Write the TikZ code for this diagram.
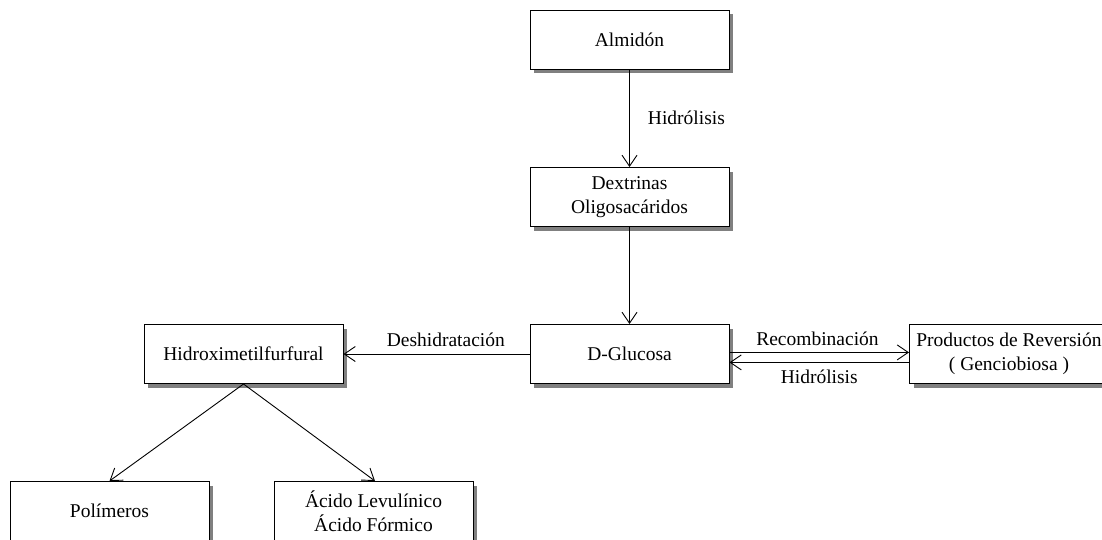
\documentclass[tikz,border=0pt]{standalone}
\usepackage{fontspec}
\setmainfont{Liberation Serif}
\usetikzlibrary{arrows.meta}
\begin{document}
\begin{tikzpicture}[x=1pt,y=-1pt,
  box/.style={draw=black, line width=1pt, fill=white, minimum width=199pt, minimum height=59pt,
    align=center, inner sep=0pt, font=\fontsize{19.5}{24}\selectfont},
  shadowbox/.style={fill=black!50, draw=none, minimum width=199pt, minimum height=59pt, inner sep=0pt},
  conn/.style={draw=black, line width=0.9pt, -{Straight Barb[length=11pt,width=15pt,line width=0.9pt]}},
  lbl/.style={font=\fontsize{19.5}{24}\selectfont, inner sep=0pt}]
\useasboundingbox (0,0) rectangle (1102,539);
\clip (0,0) rectangle (1102,539);
\fill[white] (0,0) rectangle (1102,539);
% shadows
\foreach \cx/\cy [count=\i] in {629.5/39.5, 629.5/197, 629.5/354, 243.5/354, 1009/354, 109.5/511, 373.5/511}
  \node[shadowbox] (sh\i) at (\cx+4,\cy+4) {};
% boxes
\node[box] (alm) at (629.5,39.5) {Almidón};
\node[box] (dex) at (629.5,197) {Dextrinas\\Oligosacáridos};
\node[box] (glu) at (629.5,354) {D-Glucosa};
\node[box] (hmf) at (243.5,354) {Hidroximetilfurfural};
\node[box] (prod) at (1009,354) {Productos de Reversión\\( Genciobiosa )};
\node[box] (pol) at (109.5,511) {Polímeros};
\node[box] (aci) at (373.5,511) {Ácido Levulínico\\Ácido Fórmico};

\draw[conn] (alm.south) -- node[lbl, right=18pt] {Hidrólisis} (dex.north);
\draw[conn] (dex.south) -- (glu.north);
\draw[conn] (glu.west) -- node[lbl, pos=0.45, above=7pt] {Deshidratación} (hmf.east);
\draw[conn] ([yshift=1.6pt]glu.east) -- node[lbl, pos=0.49, above=6pt] {Recombinación} ([yshift=1.6pt]prod.west);
\draw[conn] ([yshift=-8.4pt]prod.west) -- node[lbl, pos=0.5, below=7pt] {Hidrólisis} ([yshift=-8.4pt]glu.east);
\draw[conn] (hmf.south) -- (pol.north);
\draw[conn] (hmf.south) -- ([xshift=1.5pt]aci.north);
\end{tikzpicture}
\end{document}
